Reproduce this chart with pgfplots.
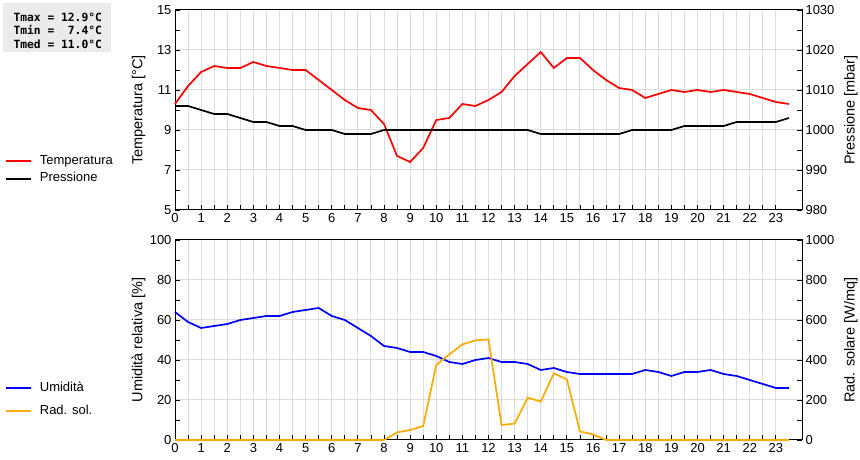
\documentclass[border=0pt]{standalone}
\usepackage{fontspec}
\setmainfont{Liberation Sans}
\newfontfamily\monofont{DejaVu Sans Mono}
\usepackage{pgfplots}
\usepackage{pgfplotstable}
\pgfplotsset{compat=1.18}

\pgfplotstableread{
h T
0 10.3
0.5 11.2
1 11.9
1.5 12.2
2 12.1
2.5 12.1
3 12.4
3.5 12.2
4 12.1
4.5 12.0
5 12.0
5.5 11.5
6 11.0
6.5 10.5
7 10.1
7.5 10.0
8 9.3
8.5 7.7
9 7.4
9.5 8.1
10 9.5
10.5 9.6
11 10.3
11.5 10.2
12 10.5
12.5 10.9
13 11.7
13.5 12.3
14 12.9
14.5 12.1
15 12.6
15.5 12.6
16 12.0
16.5 11.5
17 11.1
17.5 11.0
18 10.6
18.5 10.8
19 11.0
19.5 10.9
20 11.0
20.5 10.9
21 11.0
21.5 10.9
22 10.8
22.5 10.6
23 10.4
23.5 10.3
}\temptable

\pgfplotstableread{
h P
0 1006
0.5 1006
1 1005
1.5 1004
2 1004
2.5 1003
3 1002
3.5 1002
4 1001
4.5 1001
5 1000
5.5 1000
6 1000
6.5 999
7 999
7.5 999
8 1000
8.5 1000
9 1000
9.5 1000
10 1000
10.5 1000
11 1000
11.5 1000
12 1000
12.5 1000
13 1000
13.5 1000
14 999
14.5 999
15 999
15.5 999
16 999
16.5 999
17 999
17.5 1000
18 1000
18.5 1000
19 1000
19.5 1001
20 1001
20.5 1001
21 1001
21.5 1002
22 1002
22.5 1002
23 1002
23.5 1003
}\prestable

\pgfplotstableread{
h U
0 64
0.5 59
1 56
1.5 57
2 58
2.5 60
3 61
3.5 62
4 62
4.5 64
5 65
5.5 66
6 62
6.5 60
7 56
7.5 52
8 47
8.5 46
9 44
9.5 44
10 42
10.5 39
11 38
11.5 40
12 41
12.5 39
13 39
13.5 38
14 35
14.5 36
15 34
15.5 33
16 33
16.5 33
17 33
17.5 33
18 35
18.5 34
19 32
19.5 34
20 34
20.5 35
21 33
21.5 32
22 30
22.5 28
23 26
23.5 26
}\umtable

\pgfplotstableread{
h R
0 0
0.5 0
1 0
1.5 0
2 0
2.5 0
3 0
3.5 0
4 0
4.5 0
5 0
5.5 0
6 0
6.5 0
7 0
7.5 0
8 0
8.5 38
9 50
9.5 70
10 375
10.5 428
11 478
11.5 498
12 503
12.5 75
13 82
13.5 212
14 192
14.5 333
15 303
15.5 43
16 28
16.5 0
17 0
17.5 0
18 0
18.5 0
19 0
19.5 0
20 0
20.5 0
21 0
21.5 0
22 0
22.5 0
23 0
23.5 0
}\radtable

\definecolor{gridgray}{RGB}{220,220,220}
\definecolor{radorange}{RGB}{255,170,0}

\pgfplotsset{
  base/.style={
    scale only axis, width=627pt, height=200pt,
    xmin=0, xmax=24, xtick={0,...,23}, minor x tick num=1,
    tick align=inside, major tick length=5pt, minor tick length=5pt,
    tick style={black, line width=0.8pt},
    axis line style={black, line width=1pt},
    ticklabel style={font=\fontsize{13}{15}\selectfont},
    label style={font=\fontsize{14.5}{17}\selectfont},
    /pgf/number format/assume math mode=true,
    /pgf/number format/1000 sep={},
    scaled ticks=false, clip=false,
    legend image code/.code={\draw[#1, line width=2pt] (0pt,0pt) -- (25pt,0pt); \path (33pt,0pt);},
  },
  leftax/.style={base,
    xtick pos=bottom, ytick pos=left,
    xmajorgrids=true, xminorgrids=true, ymajorgrids=true,
    grid style={gridgray, line width=1pt},
    ylabel style={at={(axis description cs:-0.058,0.5)}, anchor=center},
    legend cell align=left,
  },
  rightax/.style={base,
    axis y line*=right, axis x line=none,
    ylabel style={at={(axis description cs:1.078,0.5)}, anchor=center},
  },
  lgd/.style={legend style={at={(axis description cs:-0.2711,#1)}, anchor=north west,
    draw=none, fill=none, inner sep=0pt, outer sep=0pt,
    font=\fontsize{13}{15}\selectfont,
    nodes={inner sep=0pt, text height=9.5pt, text depth=3pt}}},
}

\begin{document}
\begin{tikzpicture}
\useasboundingbox (0pt,0pt) rectangle (860pt,460pt);

% ---------- top: temperature / pressure
\begin{axis}[leftax, at={(175pt,250pt)}, anchor=south west,
  ymin=5, ymax=15, ytick={5,7,...,15}, minor y tick num=1,
  ylabel={Temperatura [°C]}, lgd=0.275,
  legend style={row sep=5pt}]
\addplot[red, line width=1.7pt] table[x=h,y=T] {\temptable};
\addlegendentry{Temperatura}
\addlegendimage{black, line width=1.7pt}
\addlegendentry{Pressione}
\end{axis}
\begin{axis}[rightax, at={(175pt,250pt)}, anchor=south west,
  ymin=980, ymax=1030, ytick={980,990,...,1030}, minor y tick num=1,
  ylabel={Pressione [mbar]}]
\addplot[black, line width=1.7pt] table[x=h,y=P] {\prestable};
\end{axis}

% ---------- bottom: humidity / radiation
\begin{axis}[leftax, at={(175pt,20pt)}, anchor=south west,
  ymin=0, ymax=100, ytick={0,20,...,100}, minor y tick num=1,
  ylabel={Umidità relativa [\%]}, lgd=0.29,
  legend style={row sep=10.5pt}]
\addplot[blue, line width=1.7pt] table[x=h,y=U] {\umtable};
\addlegendentry{Umidità}
\addlegendimage{radorange, line width=1.7pt}
\addlegendentry{Rad. sol.}
\end{axis}
\begin{axis}[rightax, at={(175pt,20pt)}, anchor=south west,
  ymin=0, ymax=1000, ytick={0,200,...,1000}, minor y tick num=1,
  ylabel={Rad. solare [W/mq]}]
\addplot[radorange, line width=1.7pt] table[x=h,y=R] {\radtable};
\end{axis}

% ---------- stats box
\fill[black!8] (3.3pt,456.7pt) rectangle (111pt,408pt);
\node[anchor=base west, inner sep=0pt, font=\monofont\bfseries\fontsize{11.3}{13}\selectfont] at (13.3pt,438.7pt) {Tmax = 12.9°C};
\node[anchor=base west, inner sep=0pt, font=\monofont\bfseries\fontsize{11.3}{13}\selectfont] at (13.3pt,425.2pt) {Tmin = \phantom{1}7.4°C};
\node[anchor=base west, inner sep=0pt, font=\monofont\bfseries\fontsize{11.3}{13}\selectfont] at (13.3pt,411.7pt) {Tmed = 11.0°C};
\end{tikzpicture}
\end{document}
